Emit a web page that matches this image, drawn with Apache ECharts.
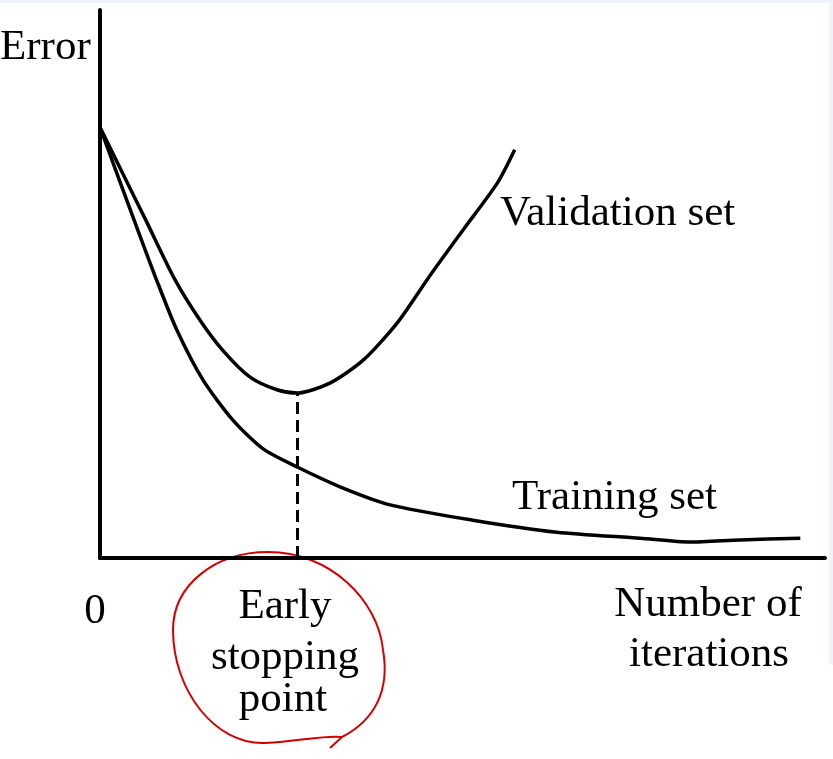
<!DOCTYPE html>
<html>
<head>
<meta charset="utf-8">
<script src="https://cdn.jsdelivr.net/npm/echarts@6/dist/echarts.min.js"></script>
<style>
    html, body { margin: 0; padding: 0; background: #fff; }
    #chart { width: 833px; height: 759px; }
</style>
</head>
<body>
<div id="chart"></div>
<script>
// iterations (0-100) vs error (0-100)
const validationX = [0, 2.9, 6.3, 10.3, 13.8, 17.0, 20.7, 24.4, 27.2, 31.7, 36.3, 41.0, 45.5, 50.1, 54.8, 57.2]
const validationY = [78.6, 70.8, 61.7, 50.9, 43.4, 37.8, 33.0, 30.7, 30.1, 31.9, 36.1, 42.9, 51.5, 59.9, 68.4, 74.5]

const trainingX = [0, 2.1, 5.0, 7.9, 10.6, 14.2, 18.3, 22.5, 27.2, 33.1, 40.0, 51.4, 63.0, 74.5, 81.4, 88.3, 96.6]
const trainingY = [78.6, 71.0, 60.6, 50.4, 41.6, 32.5, 25.2, 19.9, 16.6, 13.0, 9.7, 6.9, 4.7, 3.6, 2.9, 3.3, 3.6]

const stopX = 27.2
const stopY = 30.1

const xTicks = ['0']

const serif = '"Liberation Serif", "Times New Roman", serif'
const font = `43px ${serif}`

const zip = (xs, ys) => xs.map((x, i) => [x, ys[i]])

const chart = echarts.init(document.getElementById('chart'))

const label = (text, x, y, align = 'left') => ({
    type: 'text',
    style: {
        text,
        x,
        y,
        font,
        fill: '#000',
        textAlign: align,
        textVerticalAlign: 'middle',
    },
})

// hand-drawn red loop round the "Early stopping point" note
const loopStroke = { stroke: '#d40000', lineWidth: 2, fill: null }
const loop = [
    [342, 737, 375, 720, 390, 690, 383, 650],
    [383, 650, 378, 600, 330, 552, 268, 552],
    [268, 552, 215, 552, 173, 585, 173, 630],
    [173, 630, 173, 690, 215, 745, 265, 743],
    [265, 743, 300, 741, 325, 735, 342, 737],
].map(([x1, y1, cpx1, cpy1, cpx2, cpy2, x2, y2]) => ({
    type: 'bezierCurve',
    shape: { x1, y1, cpx1, cpy1, cpx2, cpy2, x2, y2 },
    style: loopStroke,
}))

chart.setOption({
    backgroundColor: '#fff',
    animation: false,
    grid: {
        left: 100,
        right: 8,
        top: 10,
        bottom: 201,
    },
    xAxis: {
        type: 'value',
        min: 0,
        max: 100,
        interval: 100,
        axisLine: { lineStyle: { color: '#000', width: 4 } },
        axisTick: { show: false },
        splitLine: { show: false },
        axisLabel: {
            margin: 32,
            color: '#000',
            fontFamily: serif,
            fontSize: 43,
            formatter: (v) => (v === 0 ? xTicks[0] : ''),
            padding: [0, 10, 0, 0],
        },
    },
    yAxis: {
        type: 'value',
        min: 0,
        max: 100,
        axisLine: { show: true, lineStyle: { color: '#000', width: 4 } },
        axisTick: { show: false },
        axisLabel: { show: false },
        splitLine: { show: false },
    },
    series: [
        {
            name: 'Validation set',
            type: 'line',
            data: zip(validationX, validationY),
            smooth: 0.25,
            showSymbol: false,
            lineStyle: { color: '#000', width: 3.5 },
            markLine: {
                silent: true,
                symbol: 'none',
                label: { show: false },
                lineStyle: { color: '#000', width: 3, type: 'dashed' },
                data: [[{ coord: [stopX, 0] }, { coord: [stopX, stopY] }]],
            },
        },
        {
            name: 'Training set',
            type: 'line',
            data: zip(trainingX, trainingY),
            smooth: 0.25,
            showSymbol: false,
            lineStyle: { color: '#000', width: 3.5 },
        },
    ],
    graphic: [
        { type: 'rect', shape: { x: 0, y: 0, width: 833, height: 3 }, style: { fill: '#eef3fc' } },
        { type: 'rect', shape: { x: 829, y: 0, width: 4, height: 665 }, style: { fill: '#eef3fc' } },
        label('Error', 0, 48),
        label('Validation set', 500, 214),
        label('Training set', 512, 498),
        label('Early', 285, 607, 'center'),
        label('stopping', 285, 658, 'center'),
        label('point', 283, 700, 'center'),
        label('Number of', 708, 605, 'center'),
        label('iterations', 709, 655, 'center'),
        ...loop,
        {
            type: 'line',
            shape: { x1: 342, y1: 737, x2: 330, y2: 748 },
            style: loopStroke,
        },
    ],
})
</script>
</body>
</html>
